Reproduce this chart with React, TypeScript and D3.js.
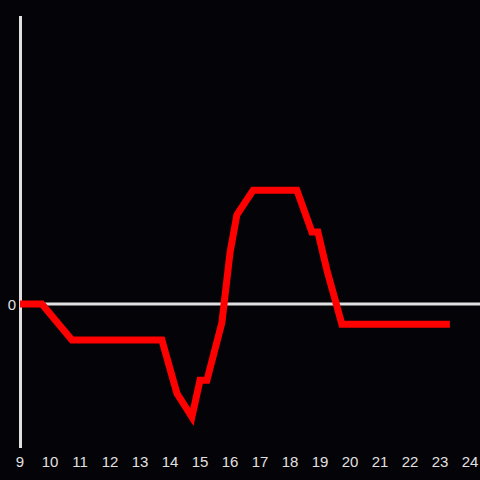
import React from "react";
import * as d3 from "d3";

const hours = [9, 9.73, 10.73, 13.73, 14.23, 14.73, 15.0, 15.23, 15.73, 16.0, 16.23, 16.77, 18.23, 18.73, 18.93, 19.23, 19.73, 23.33];
const values = [0, 0, -0.25, -0.25, -0.62, -0.785, -0.53, -0.53, -0.13, 0.355, 0.62, 0.79, 0.79, 0.5, 0.5, 0.235, -0.14, -0.14];
const xTicks = [9, 10, 11, 12, 13, 14, 15, 16, 17, 18, 19, 20, 21, 22, 23, 24];
const yTicks = [0];

const W = 480;
const H = 480;

export default function App() {
  const x = d3.scaleLinear().domain([9, 24]).range([20, 470]);
  const y = d3.scaleLinear().domain([-1, 2]).range([448, 16]);
  const pts: [number, number][] = hours.map((h, i) => [h, values[i]]);
  const line = d3
    .line<[number, number]>()
    .x((d) => x(d[0]))
    .y((d) => y(d[1]));
  const axisColor = "#e0e0e0";
  const font = "'Liberation Sans', Arial, sans-serif";
  return (
    <svg
      width={W}
      height={H}
      style={{ position: "absolute", left: 0, top: 0, display: "block" }}
    >
      <rect x={0} y={0} width={W} height={H} fill="#040307" />
      <line x1={20} x2={W} y1={y(0)} y2={y(0)} stroke={axisColor} strokeWidth={3} />
      <line x1={20.5} x2={20.5} y1={16} y2={448} stroke={axisColor} strokeWidth={3} />
      <path d={line(pts) || ""} fill="none" stroke="#ff0000" strokeWidth={7} strokeLinejoin="miter" strokeLinecap="butt" />
      {xTicks.map((t) => (
        <text key={t} x={x(t)} y={467} textAnchor="middle" fill={axisColor} fontSize={15} fontFamily={font}>
          {t}
        </text>
      ))}
      {yTicks.map((t) => (
        <text key={t} x={16} y={y(t) + 6} textAnchor="end" fill={axisColor} fontSize={15} fontFamily={font}>
          {t}
        </text>
      ))}
    </svg>
  );
}
